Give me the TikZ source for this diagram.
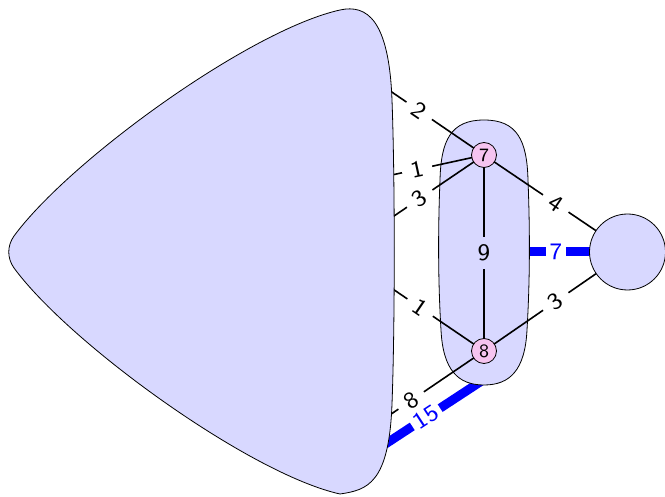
\documentclass[tikz,border=0pt]{standalone}
\usepackage{graphicx}
\usepackage{tikz}
\definecolor{lav}{RGB}{216,216,255}
\definecolor{vpink}{RGB}{246,196,240}
\newcommand\lbtxt[1]{\scalebox{2.95}{\fontsize{8}{9}\sffamily #1}}
\newcommand\vtxtxt[1]{\scalebox{2.35}{\fontsize{8}{9}\sffamily #1}}
\tikzset{
  lbl/.style={fill=white, inner xsep=9pt, inner ysep=0pt, sloped},
  blbl/.style={lbl, text=blue, inner xsep=4pt},
  edg/.style={line width=1.6pt},
  bedg/.style={line width=9pt, blue},
  vtx/.style={circle, draw, line width=0.8pt, fill=vpink, minimum size=25pt, inner sep=0pt},
  region/.style={draw, line width=0.8pt, fill=lav},
}
\begin{document}
\begin{tikzpicture}[x=1pt,y=-1pt]
\useasboundingbox (0,0) rectangle (665,497);
% centres and hidden edge ends
\coordinate (c7) at (484,155);
\coordinate (c8) at (484,351);
\coordinate (cR) at (627.5,252);
\coordinate (p2) at (380.3,84.2);
\coordinate (p1a) at (380.3,177.5);
\coordinate (p3) at (381.6,224.4);
\coordinate (p1b) at (381.9,281.6);
\coordinate (p8) at (379.9,421.7);
\coordinate (p15) at (377.5,449.2);
\coordinate (q15) at (489.5,375.8);
\coordinate (q7) at (505,252);
% blue edges (under the rounded region)
\draw[bedg] (p15) -- (q15) node[blbl, pos=0.435] {\lbtxt{15}};
\draw[bedg] (q7) -- (cR) node[blbl, pos=0.416] {\lbtxt{7}};
% rounded region
\path[region] (484,120) .. controls (517,120) and (527,140) .. (528,180)
  .. controls (530,230) and (530,280) .. (527,330)
  .. controls (525,370) and (510,385) .. (484,385)
  .. controls (458,385) and (443,370) .. (441,330)
  .. controls (438,280) and (438,230) .. (440,180)
  .. controls (441,140) and (451,120) .. (484,120) -- cycle;
% black edges
\draw[edg] (p2) -- (c7) node[lbl, pos=0.375] {\lbtxt{2}};
\draw[edg] (p1a) -- (c7) node[lbl, pos=0.355] {\lbtxt{1}};
\draw[edg] (p3) -- (c7) node[lbl, pos=0.372] {\lbtxt{3}};
\draw[edg] (p1b) -- (c8) node[lbl, pos=0.374] {\lbtxt{1}};
\draw[edg] (p8) -- (c8) node[lbl, pos=0.30] {\lbtxt{8}};
\draw[edg] (c7) -- (c8) node[lbl, pos=0.5, sloped=false, rotate=0, fill=lav, inner xsep=2pt, inner ysep=8pt] {\lbtxt{9}};
\draw[edg] (c7) -- (cR) node[lbl, pos=0.5] {\lbtxt{4}};
\draw[edg] (c8) -- (cR) node[lbl, pos=0.5] {\lbtxt{3}};
% big region
\path[region] (14,236) .. controls (70,160) and (250,30) .. (340,10)
  .. controls (367,4) and (389,20) .. (392,100)
  .. controls (395,180) and (395,324) .. (392,404)
  .. controls (389,484) and (367,490) .. (340,494)
  .. controls (250,474) and (70,344) .. (14,268)
  .. controls (7,258) and (7,246) .. (14,236) -- cycle;
% nodes
\node[vtx] (n7) at (c7) {\vtxtxt{7}};
\node[vtx] (n8) at (c8) {\vtxtxt{8}};
\node[circle, draw, line width=0.8pt, fill=lav, minimum size=76pt, inner sep=0pt] (nR) at (cR) {};
\end{tikzpicture}
\end{document}
